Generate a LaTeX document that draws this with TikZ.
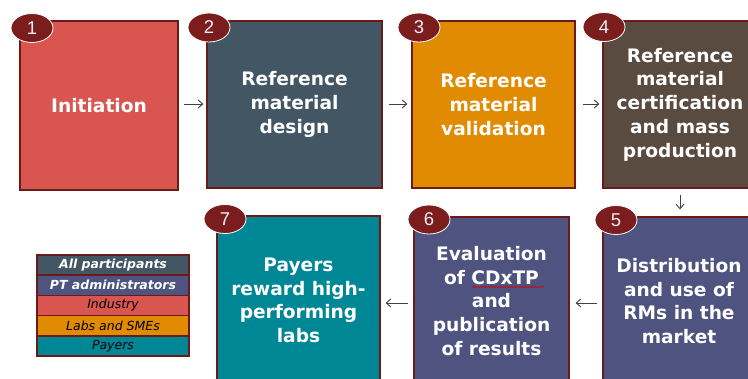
\documentclass[tikz,border=0pt]{standalone}
\usepackage{fontspec}
\setmainfont{DejaVu Sans}
\newfontfamily\numfont{Liberation Sans}
\usetikzlibrary{arrows.meta,decorations.pathmorphing,shapes.geometric}
\definecolor{cRed}{HTML}{D95550}
\definecolor{cSlate}{HTML}{435664}
\definecolor{cOrange}{HTML}{E08B02}
\definecolor{cBrown}{HTML}{594B3F}
\definecolor{cIndigo}{HTML}{4E5380}
\definecolor{cTeal}{HTML}{008796}
\definecolor{cBorder}{HTML}{6B1A1A}
\definecolor{cBadge}{HTML}{7A1D1C}
\definecolor{cArrow}{HTML}{404040}
\begin{document}
\begin{tikzpicture}[x=1pt,y=-1pt,
  stepbox/.style={draw=cBorder,line width=1.3pt,inner sep=0pt,text=white,align=center,
    font=\fontsize{18.6}{23.7}\selectfont\bfseries},
  badge/.style={ellipse,draw=white,line width=0.8pt,fill=cBadge,minimum width=42pt,minimum height=29pt,
    inner sep=0pt,text={rgb,255:red,240;green,238;blue,250},font=\numfont\fontsize{18.5}{18.5}\selectfont},
  legrow/.style={draw=cBorder,line width=1.5pt,minimum width=152pt,minimum height=20.2pt,inner sep=0pt,
    font=\fontsize{12.5}{13}\selectfont\itshape},
  arr/.style={draw=cArrow,line width=0.9pt,-{Straight Barb[length=4.5pt,width=8pt]}}]
\useasboundingbox (0,0) rectangle (748,379);
\clip (0,0) rectangle (748,379);
\fill[white] (0,0) rectangle (748,379);
% top row
\node[stepbox,fill=cRed,minimum width=158pt,minimum height=169pt] (b1) at (99,105.5) {Initiation};
\node[stepbox,fill=cSlate,minimum width=175pt,minimum height=167pt] (b2) at (294.5,104.5) {Reference\\material\\design};
\node[stepbox,fill=cOrange,minimum width=163pt,minimum height=167pt] (b3) at (493.5,104.5) {Reference\\material\\validation};
\node[stepbox,fill=cBrown,minimum width=154pt,minimum height=167pt] (b4) at (680,104.5) {Reference\\material\\certification\\and mass\\production};
% bottom row
\node[stepbox,fill=cIndigo,minimum width=152pt,minimum height=168pt] (b5) at (679,301) {Distribution\\and use of\\RMs in the\\market};
\node[stepbox,fill=cIndigo,minimum width=155pt,minimum height=168pt] (b6) at (491.5,301) {Evaluation\\of CDxTP\\and\\publication\\of results};
\node[stepbox,fill=cTeal,minimum width=163pt,minimum height=169pt] (b7) at (298.5,300.5) {Payers\\reward high-\\performing\\labs};
% spell-check underline
\draw[red!85!black,line width=0.5pt,decorate,decoration={snake,amplitude=0.7pt,segment length=2.6pt}] (472,287) -- (544,287);
% badges
\node[badge] (n1) at (32,28) {1};
\node[badge] (n2) at (209,27.5) {2};
\node[badge] (n3) at (419,27.5) {3};
\node[badge] (n4) at (604,27) {4};
\node[badge] (n5) at (616,220) {5};
\node[badge] (n6) at (429,219.5) {6};
\node[badge] (n7) at (225,219) {7};
% arrows
\draw[arr,shorten <=5pt,shorten >=3pt] (b1.east |- 0,104) -- (b2.west |- 0,104);
\draw[arr,shorten <=6pt,shorten >=4pt] (b2.east |- 0,104) -- (b3.west |- 0,104);
\draw[arr,shorten <=7pt,shorten >=3pt] (b3.east |- 0,104) -- (b4.west |- 0,104);
\draw[arr,shorten <=6pt,shorten >=7pt] (b4.south -| 680,0) -- (b5.north -| 680,0);
\draw[arr,shorten <=5pt,shorten >=6pt] (b5.west |- 0,303) -- (b6.east |- 0,303);
\draw[arr,shorten <=5pt,shorten >=5pt] (b6.west |- 0,303) -- (b7.east |- 0,303);
% legend
\node[legrow,fill=cSlate,text=white,font=\fontsize{12.5}{13}\selectfont\bfseries\itshape] (l1) at (113,265.1) {All participants};
\node[legrow,fill=cIndigo,text=white,font=\fontsize{12.5}{13}\selectfont\bfseries\itshape] (l2) at (113,285.3) {PT administrators};
\node[legrow,fill=cRed,text=black] (l3) at (113,305.5) {Industry};
\node[legrow,fill=cOrange,text=black] (l4) at (113,325.7) {Labs and SMEs};
\node[legrow,fill=cTeal,text=black] (l5) at (113,345.9) {Payers};
\end{tikzpicture}
\end{document}
